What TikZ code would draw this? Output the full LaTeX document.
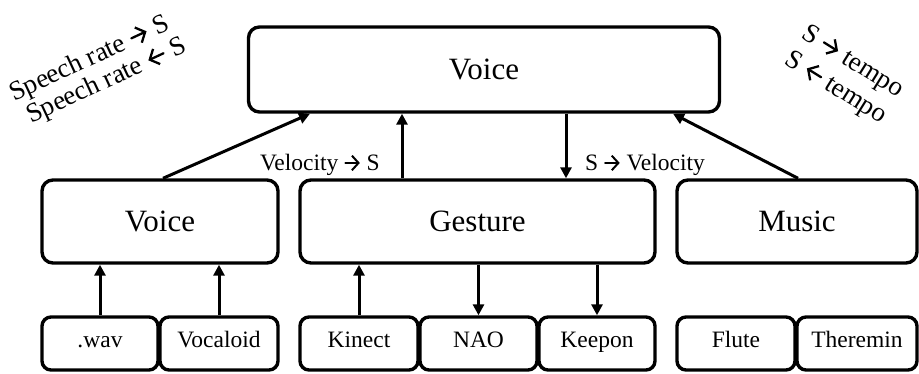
\documentclass[tikz,border=0pt]{standalone}
\usepackage{fontspec}
\setmainfont{Liberation Serif}
\usetikzlibrary{arrows.meta}
\newcommand{\myra}{\tikz[baseline=-0.3em]\draw[line width=0.085em, line cap=round, -{Straight Barb[length=0.28em,width=0.62em,line width=0.085em]}] (0em,0em) -- (0.62em,0em);}
\newcommand{\myla}{\tikz[baseline=-0.3em]\draw[line width=0.085em, line cap=round, {Straight Barb[length=0.28em,width=0.62em,line width=0.085em]}-] (0em,0em) -- (0.62em,0em);}
\begin{document}
\begin{tikzpicture}[x=1pt,y=-1pt,
  box/.style={draw, line width=3.4pt, rounded corners=11pt, inner sep=0pt, font=\fontsize{31}{35}\selectfont},
  small/.style={draw, line width=3.4pt, rounded corners=9pt, inner sep=0pt, minimum height=53pt, text height=0.75em, text depth=0.05em, font=\fontsize{23.5}{27}\selectfont},
  arr/.style={line width=3pt, -{Triangle[length=11pt,width=11pt]}},
  lbl/.style={font=\fontsize{23.5}{27}\selectfont, inner sep=0pt},
  rot/.style={font=\fontsize{27}{30}\selectfont, inner sep=0pt}]
\useasboundingbox (0,0) rectangle (919,373);
% top
\node[box, minimum width=471pt, minimum height=85pt] (top) at (484,69.5) {Voice};
% middle
\node[box, minimum width=236pt, minimum height=83pt] (v) at (160,221.5) {Voice};
\node[box, minimum width=355pt, minimum height=83pt] (g) at (477.5,221.5) {Gesture};
\node[box, minimum width=240pt, minimum height=83pt] (m) at (797,221.5) {Music};
% bottom
\node[small, minimum width=116pt] (wav) at (100,343.5) {.wav};
\node[small, minimum width=118pt] (voc) at (219,343.5) {Vocaloid};
\node[small, minimum width=118pt] (kin) at (359,343.5) {Kinect};
\node[small, minimum width=117pt] (nao) at (478.5,343.5) {NAO};
\node[small, minimum width=116pt] (kee) at (597,343.5) {Keepon};
\node[small, minimum width=118pt] (flu) at (736,343.5) {Flute};
\node[small, minimum width=120pt] (the) at (857,343.5) {Theremin};
% bottom arrows
\draw[arr] (wav.north) -- (wav.north |- v.south);
\draw[arr] (voc.north) -- (voc.north |- v.south);
\draw[arr] (kin.north) -- (kin.north |- g.south);
\draw[arr] (g.south -| nao.north) -- (nao.north);
\draw[arr] (g.south -| kee.north) -- (kee.north);
% middle to top
\draw[arr] ([xshift=3pt]v.north) -- ([xshift=-174pt]top.south);
\draw[arr] ([xshift=-75.5pt]g.north) -- ([xshift=-75.5pt]g.north |- top.south);
\draw[arr] ([xshift=88.5pt]g.north |- top.south) -- ([xshift=88.5pt]g.north);
\draw[arr] ([xshift=1pt]m.north) -- ([xshift=189pt]top.south);
% labels
\node[lbl, anchor=base east] (l1) at (380,170) {Velocity \myra\ S};
\node[lbl, anchor=base west] (l2) at (585,170) {S \myra\ Velocity};
\node[rot, anchor=base west, rotate=25] (r1) at (14,102) {Speech rate \myra\ S};
\node[rot, anchor=base west, rotate=25] (r2) at (31,124) {Speech rate \myla\ S};
\node[rot, anchor=base west, rotate=-32] (r3) at (800,37) {S \myra\ tempo};
\node[rot, anchor=base west, rotate=-32] (r4) at (783,63) {S \myla\ tempo};
\end{tikzpicture}
\end{document}
